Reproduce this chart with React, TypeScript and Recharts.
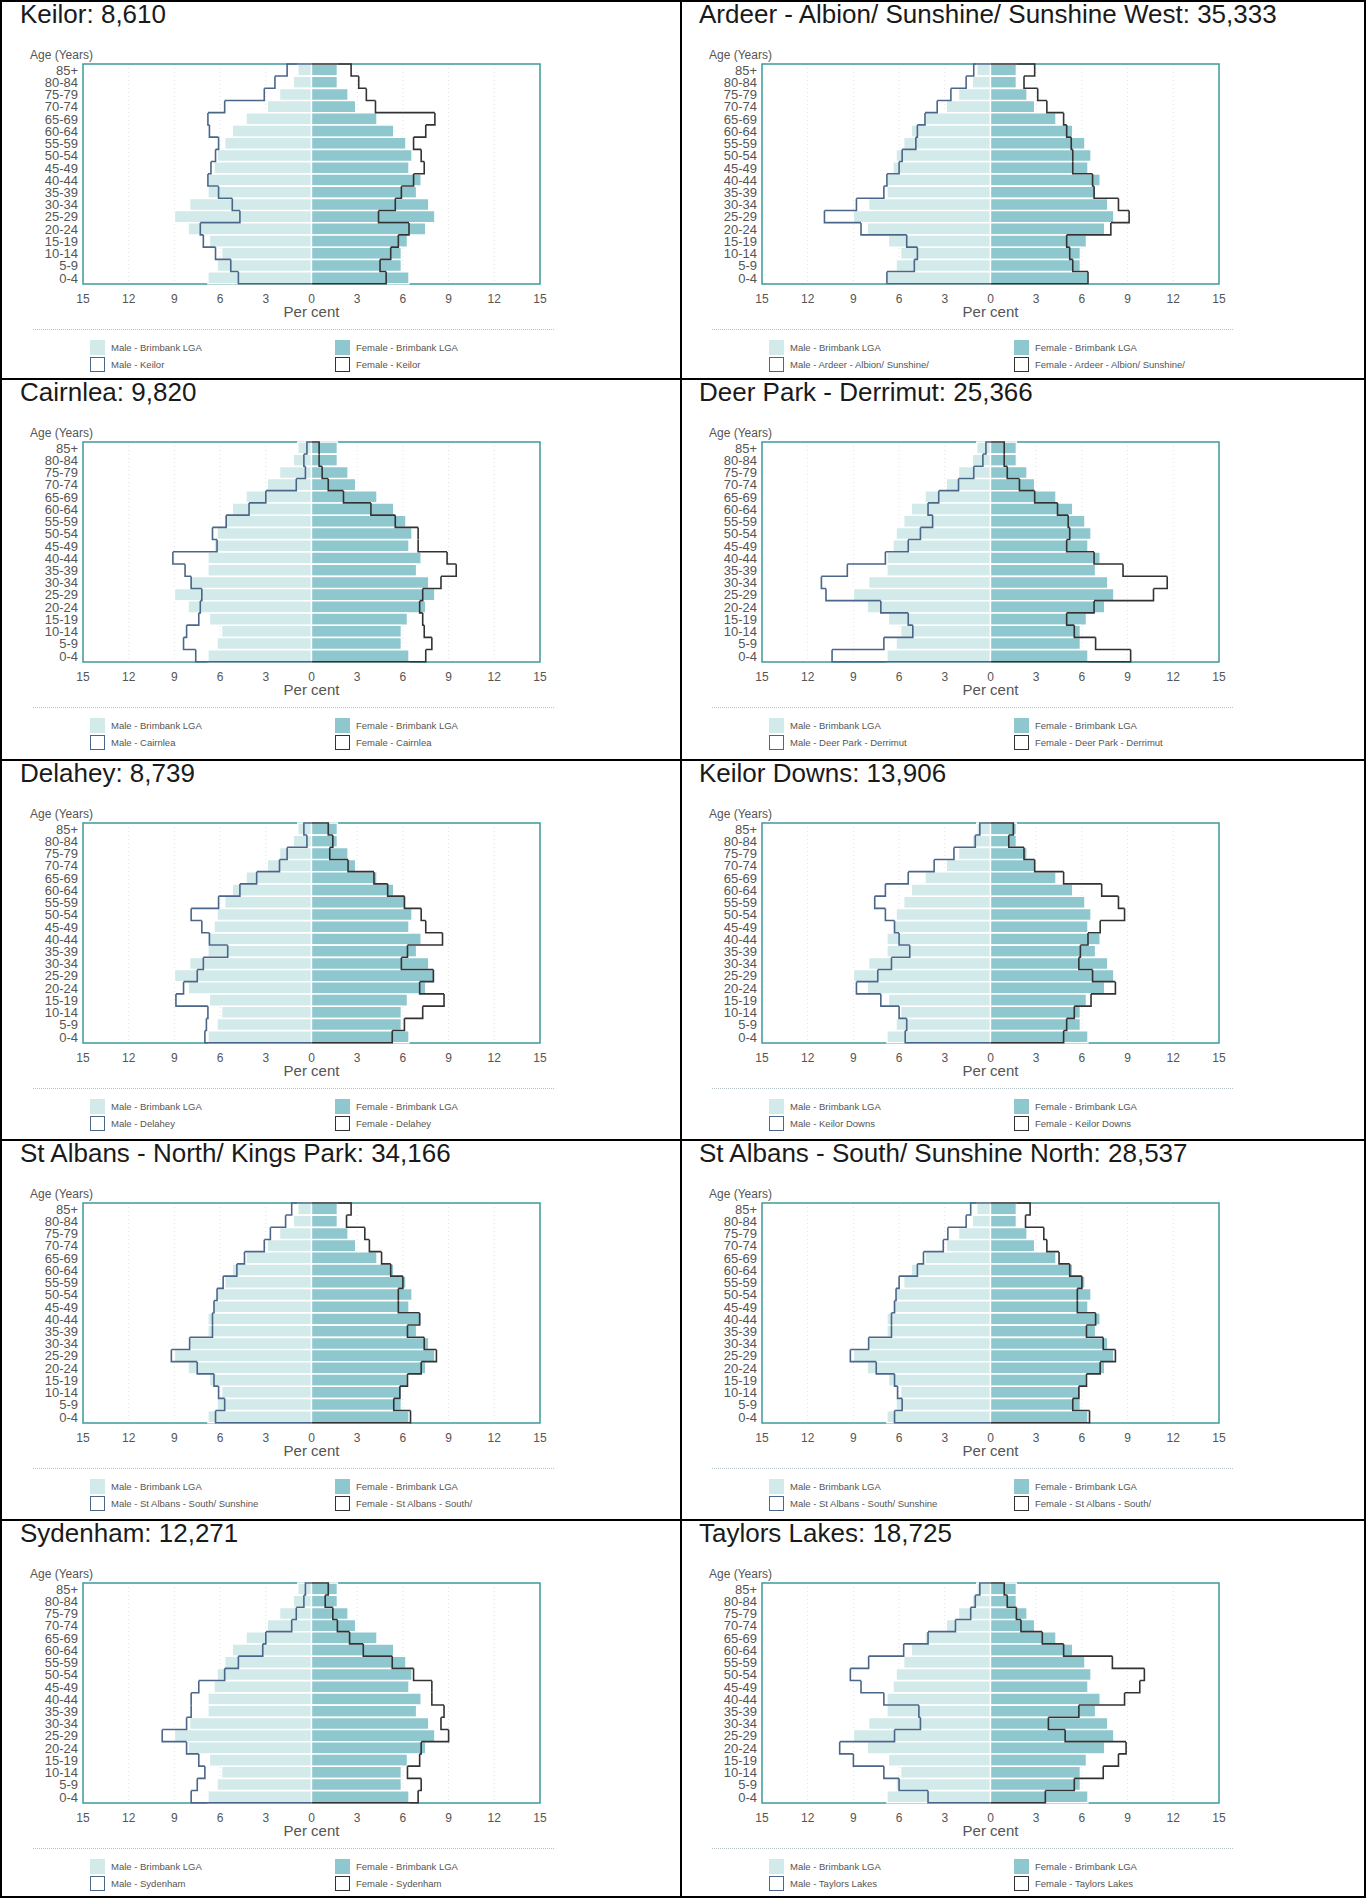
import React from 'react';
import { ComposedChart, Bar, XAxis, YAxis, CartesianGrid, ReferenceArea } from 'recharts';

// age bands, top of the pyramid first
const AGES = ['85+', '80-84', '75-79', '70-74', '65-69', '60-64', '55-59', '50-54', '45-49', '40-44', '35-39', '30-34', '25-29', '20-24', '15-19', '10-14', '5-9', '0-4'];
const X_TICKS = [-15, -12, -9, -6, -3, 0, 3, 6, 9, 12, 15];

// Brimbank LGA (same in every panel), per cent
const MALE_LGA = [0.9, 1.2, 2.1, 2.9, 4.3, 5.2, 5.7, 6.2, 6.4, 6.8, 6.8, 8.0, 9.0, 8.1, 6.7, 5.9, 6.2, 6.8];
const FEMALE_LGA = [1.7, 1.7, 2.4, 2.9, 4.3, 5.4, 6.2, 6.6, 6.4, 7.2, 6.9, 7.7, 8.1, 7.5, 6.3, 5.9, 5.9, 6.4];

// small areas
const KEILOR_MALE = [1.6, 2.4, 3.1, 5.7, 6.8, 6.7, 6.1, 6.3, 6.6, 6.8, 6.1, 5.2, 4.7, 7.3, 7.1, 6.3, 5.3, 4.8];
const KEILOR_FEMALE = [2.6, 3.1, 3.6, 4.2, 8.1, 7.5, 6.7, 7.2, 7.4, 6.7, 5.9, 5.5, 4.4, 6.4, 5.7, 5.2, 4.5, 4.9];
const ARDEER_MALE = [1.1, 1.6, 2.6, 3.5, 4.3, 4.8, 4.9, 5.8, 6.0, 6.8, 7.0, 8.8, 10.9, 8.5, 5.5, 4.8, 5.0, 6.8];
const ARDEER_FEMALE = [2.9, 2.2, 3.1, 3.7, 4.8, 5.0, 5.3, 5.4, 5.4, 6.7, 6.8, 8.4, 9.1, 7.9, 5.0, 5.2, 5.4, 6.4];
const CAIRNLEA_MALE = [0.3, 0.5, 0.4, 1.0, 3.0, 4.1, 5.6, 6.5, 6.2, 9.1, 8.3, 7.9, 7.2, 7.3, 7.4, 8.2, 8.4, 7.6];
const CAIRNLEA_FEMALE = [0.5, 0.5, 0.7, 1.1, 2.1, 3.9, 5.5, 7.0, 7.0, 8.9, 9.5, 8.5, 7.3, 7.1, 7.3, 7.4, 7.9, 7.5];
const DEERPARK_MALE = [0.3, 0.5, 1.1, 2.1, 3.4, 4.1, 3.8, 4.6, 5.4, 6.9, 9.4, 11.1, 10.8, 7.2, 5.4, 5.1, 7.0, 10.4];
const DEERPARK_FEMALE = [0.9, 0.9, 1.1, 1.9, 2.9, 4.4, 5.1, 5.2, 5.0, 6.8, 8.7, 11.6, 10.7, 6.8, 5.0, 5.5, 6.9, 9.2];
const DELAHEY_MALE = [0.5, 0.3, 1.6, 2.1, 3.6, 4.7, 6.1, 7.9, 7.2, 6.7, 5.5, 7.1, 7.5, 8.4, 8.9, 6.8, 6.9, 7.0];
const DELAHEY_FEMALE = [1.1, 1.4, 1.2, 2.4, 4.1, 5.0, 6.1, 7.2, 7.5, 8.6, 6.3, 5.9, 8.0, 7.1, 8.7, 7.3, 6.1, 5.3];
const KEILORDOWNS_MALE = [0.7, 1.0, 2.4, 3.7, 5.4, 6.9, 7.6, 6.9, 6.3, 6.0, 5.3, 6.5, 7.4, 8.8, 7.2, 6.0, 5.5, 5.6];
const KEILORDOWNS_FEMALE = [1.5, 1.2, 2.2, 2.9, 4.8, 7.3, 8.4, 8.8, 7.2, 6.4, 5.9, 5.8, 6.7, 8.2, 6.6, 5.5, 5.0, 4.8];
const STALBANS_N_MALE = [1.3, 1.7, 2.7, 3.1, 4.4, 4.9, 5.8, 6.2, 6.4, 6.5, 6.5, 8.0, 9.2, 7.5, 6.4, 6.1, 5.7, 6.3];
const STALBANS_N_FEMALE = [2.6, 2.3, 3.5, 3.8, 4.6, 5.2, 6.0, 5.7, 5.7, 7.1, 6.3, 7.4, 8.2, 7.2, 6.3, 5.8, 5.4, 6.5];
const STALBANS_S_MALE = [1.3, 1.6, 2.8, 3.1, 4.4, 4.8, 6.0, 6.2, 6.3, 6.5, 6.5, 8.0, 9.2, 7.5, 6.3, 6.1, 5.8, 6.3];
const STALBANS_S_FEMALE = [2.6, 2.3, 3.5, 3.7, 4.5, 5.2, 6.0, 5.7, 5.7, 6.9, 6.3, 7.4, 8.2, 7.2, 6.3, 5.8, 5.4, 6.5];
const SYDENHAM_MALE = [0.4, 0.5, 1.0, 1.3, 3.0, 3.2, 4.8, 5.7, 7.4, 7.9, 7.9, 8.2, 9.8, 8.2, 7.4, 7.0, 7.5, 7.9];
const SYDENHAM_FEMALE = [1.1, 0.9, 1.4, 1.7, 2.5, 3.4, 5.3, 6.7, 7.9, 7.9, 8.7, 8.5, 9.0, 7.2, 7.1, 6.3, 7.2, 7.0];
const TAYLORS_MALE = [0.7, 1.0, 1.3, 2.3, 4.1, 5.7, 8.0, 9.2, 8.5, 7.0, 4.7, 4.6, 6.3, 9.9, 9.0, 7.0, 6.0, 4.1];
const TAYLORS_FEMALE = [0.9, 1.1, 1.7, 2.0, 3.4, 4.8, 8.0, 10.1, 9.8, 8.8, 5.8, 3.8, 4.9, 8.9, 8.4, 7.4, 5.5, 3.6];

const PANELS = [
  { title: 'Keilor: 8,610', maleLabel: 'Male - Keilor', femaleLabel: 'Female - Keilor', male: KEILOR_MALE, female: KEILOR_FEMALE },
  { title: 'Ardeer - Albion/ Sunshine/ Sunshine West: 35,333', maleLabel: 'Male - Ardeer - Albion/ Sunshine/', femaleLabel: 'Female - Ardeer - Albion/ Sunshine/', male: ARDEER_MALE, female: ARDEER_FEMALE },
  { title: 'Cairnlea: 9,820', maleLabel: 'Male - Cairnlea', femaleLabel: 'Female - Cairnlea', male: CAIRNLEA_MALE, female: CAIRNLEA_FEMALE },
  { title: 'Deer Park - Derrimut: 25,366', maleLabel: 'Male - Deer Park - Derrimut', femaleLabel: 'Female - Deer Park - Derrimut', male: DEERPARK_MALE, female: DEERPARK_FEMALE },
  { title: 'Delahey: 8,739', maleLabel: 'Male - Delahey', femaleLabel: 'Female - Delahey', male: DELAHEY_MALE, female: DELAHEY_FEMALE },
  { title: 'Keilor Downs: 13,906', maleLabel: 'Male - Keilor Downs', femaleLabel: 'Female - Keilor Downs', male: KEILORDOWNS_MALE, female: KEILORDOWNS_FEMALE },
  { title: 'St Albans - North/ Kings Park: 34,166', maleLabel: 'Male - St Albans - South/ Sunshine', femaleLabel: 'Female - St Albans - South/', male: STALBANS_N_MALE, female: STALBANS_N_FEMALE },
  { title: 'St Albans - South/ Sunshine North: 28,537', maleLabel: 'Male - St Albans - South/ Sunshine', femaleLabel: 'Female - St Albans - South/', male: STALBANS_S_MALE, female: STALBANS_S_FEMALE },
  { title: 'Sydenham: 12,271', maleLabel: 'Male - Sydenham', femaleLabel: 'Female - Sydenham', male: SYDENHAM_MALE, female: SYDENHAM_FEMALE },
  { title: 'Taylors Lakes: 18,725', maleLabel: 'Male - Taylors Lakes', femaleLabel: 'Female - Taylors Lakes', male: TAYLORS_MALE, female: TAYLORS_FEMALE },
];

const ROW_TOPS = [0, 378, 759, 1139, 1519];
const COL_LEFTS = [0, 679];

const FONT = "'Liberation Sans', Arial, sans-serif";
const C_MALE_LGA = '#d3eaeb';
const C_FEMALE_LGA = '#8fc7cf';
const C_FRAME = '#3e9a9c';
const C_MALE_LINE = '#4a6688';
const C_FEMALE_LINE = '#333333';

const makeRows = (male: number[], female: number[]) =>
  AGES.map((age, i) => ({
    age,
    maleLga: -MALE_LGA[i],
    femaleLga: FEMALE_LGA[i],
    maleLocal: -male[i],
    femaleLocal: female[i],
  }));

type Row = ReturnType<typeof makeRows>[number];

// stepped outline drawn from each bar's own geometry, joined to the next band
const stepOutline = (rows: Row[], key: 'maleLocal' | 'femaleLocal', color: string) => (props: any) => {
  const { x, y, width, height, index } = props;
  const cur = rows[index][key];
  if (!cur) return <g />;
  const unit = width / cur;
  const endX = x + width;
  const bottom = y + height;
  let d = index === 0 ? `M${x},${y}L${endX},${y}` : `M${endX},${y}`;
  d += `L${endX},${bottom}`;
  const nextX = index < rows.length - 1 ? x + rows[index + 1][key] * unit : x;
  d += `L${nextX},${bottom}`;
  return <path d={d} fill="none" stroke={color} strokeWidth={1.6} />;
};

const LegendItem: React.FC<{ x: number; y: number; fill: string; stroke?: string; label: string }> = ({ x, y, fill, stroke, label }) => (
  <div style={{ position: 'absolute', left: x, top: y, display: 'flex', alignItems: 'center', height: 15, whiteSpace: 'nowrap' }}>
    <div style={{ width: 15, height: 15, boxSizing: 'border-box', background: fill, border: stroke ? `1.5px solid ${stroke}` : 'none' }} />
    <span style={{ marginLeft: 6, fontFamily: FONT, fontSize: 9.5, color: '#555' }}>{label}</span>
  </div>
);

const Pyramid: React.FC<{ panel: typeof PANELS[number]; left: number; top: number }> = ({ panel, left, top }) => {
  const rows = makeRows(panel.male, panel.female);
  return (
    <div style={{ position: 'absolute', left, top, width: 680, height: 380 }}>
      <div style={{ position: 'absolute', left: 20, top: 1, fontFamily: FONT, fontSize: 26, lineHeight: '26px', color: '#1a1a1a', whiteSpace: 'nowrap' }}>
        {panel.title}
      </div>
      <div style={{ position: 'absolute', left: 30, top: 47, fontFamily: FONT, fontSize: 12, lineHeight: '16px', color: '#555' }}>Age (Years)</div>
      <div style={{ position: 'absolute', left: 0, top: 40 }}>
        <ComposedChart
          layout="vertical"
          width={560}
          height={270}
          data={rows}
          margin={{ top: 24, right: 20, bottom: 0, left: 0 }}
          barSize={12}
          barGap={-12}
        >
          <CartesianGrid horizontal={false} stroke="#e2e2e2" strokeDasharray="1 3" />
          <XAxis
            type="number"
            domain={[-15, 15]}
            ticks={X_TICKS}
            interval={0}
            allowDataOverflow
            height={26}
            axisLine={false}
            tickLine={false}
            tickMargin={4}
            tickFormatter={(v: number) => String(Math.abs(v))}
            tick={{ fill: '#555', fontSize: 12, fontFamily: FONT }}
          />
          <YAxis
            type="category"
            dataKey="age"
            width={83}
            interval={0}
            axisLine={false}
            tickLine={false}
            tickSize={3}
            tickMargin={2}
            tick={{ fill: '#555', fontSize: 13, fontFamily: FONT }}
          />
          <Bar dataKey="maleLga" fill={C_MALE_LGA} stroke="#ffffff" strokeWidth={1.4} isAnimationActive={false} />
          <Bar dataKey="femaleLga" fill={C_FEMALE_LGA} stroke="#ffffff" strokeWidth={1.4} isAnimationActive={false} />
          <ReferenceArea x1={-15} x2={15} y1="85+" y2="0-4" fill="none" stroke={C_FRAME} strokeWidth={1.5} ifOverflow="visible" />
          <Bar dataKey="maleLocal" shape={stepOutline(rows, 'maleLocal', C_MALE_LINE)} isAnimationActive={false} />
          <Bar dataKey="femaleLocal" shape={stepOutline(rows, 'femaleLocal', C_FEMALE_LINE)} isAnimationActive={false} />
        </ComposedChart>
      </div>
      <div style={{ position: 'absolute', left: 83, width: 457, top: 303, textAlign: 'center', fontFamily: FONT, fontSize: 15, lineHeight: '18px', color: '#555' }}>
        Per cent
      </div>
      <div style={{ position: 'absolute', left: 33, width: 521, top: 329, borderTop: '1px dotted #b5c2c6' }} />
      <LegendItem x={90} y={340} fill={C_MALE_LGA} label="Male - Brimbank LGA" />
      <LegendItem x={335} y={340} fill={C_FEMALE_LGA} label="Female - Brimbank LGA" />
      <LegendItem x={90} y={357} fill="#ffffff" stroke={C_MALE_LINE} label={panel.maleLabel} />
      <LegendItem x={335} y={357} fill="#ffffff" stroke={C_FEMALE_LINE} label={panel.femaleLabel} />
    </div>
  );
};

export default function App() {
  return (
    <div style={{ position: 'absolute', left: 0, top: 0, width: 1366, height: 1898, background: '#fff', overflow: 'hidden' }}>
      {PANELS.map((panel, i) => (
        <Pyramid key={panel.title} panel={panel} left={COL_LEFTS[i % 2]} top={ROW_TOPS[Math.floor(i / 2)]} />
      ))}
      {/* table rules */}
      <div style={{ position: 'absolute', left: 0, top: 0, width: 1366, height: 1898, boxSizing: 'border-box', border: '2px solid #000' }} />
      <div style={{ position: 'absolute', left: 680, top: 0, width: 2, height: 1898, background: '#000' }} />
      {ROW_TOPS.slice(1).map((t) => (
        <div key={t} style={{ position: 'absolute', left: 0, top: t, width: 1366, height: 2, background: '#000' }} />
      ))}
    </div>
  );
}
